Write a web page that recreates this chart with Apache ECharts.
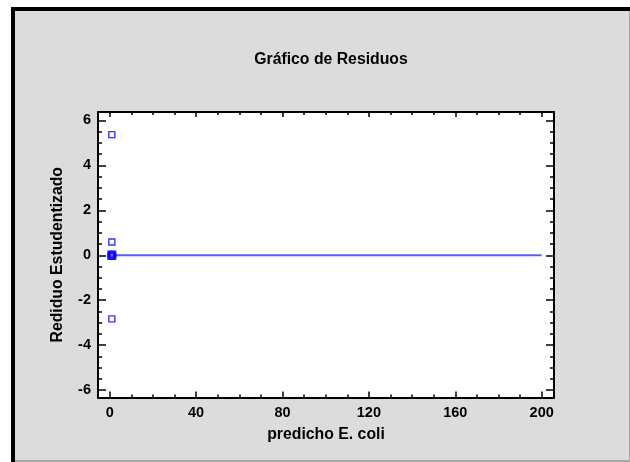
<!DOCTYPE html>
<html>
<head>
<meta charset="utf-8">
<script src="https://cdn.jsdelivr.net/npm/echarts@6/dist/echarts.min.js"></script>
<style>
  html, body { margin: 0; padding: 0; background: #fff; }
  #chart { width: 630px; height: 462px; }
</style>
</head>
<body>
<div id="chart"></div>
<script>
// puntos de residuos (predicho, residuo estudentizado)
const residX = [1.0, 1.0, 1.0, 1.0, 1.4, 0.6, 1.4, 0.6];
const residY = [5.37, 0.59, -2.83, 0.0, 0.05, -0.05, -0.05, 0.05];

// linea de referencia en cero
const lineX = [0, 200];
const lineY = [0, 0];

// marcas de los ejes
const xTicks = [0, 40, 80, 120, 160, 200];
const xMinor = [0, 10, 20, 30, 40, 50, 60, 70, 80, 90, 100, 110, 120, 130, 140, 150, 160, 170, 180, 190, 200];
const yTicks = [-6, -4, -2, 0, 2, 4, 6];
const yMinor = [-6, -5.5, -5, -4.5, -4, -3.5, -3, -2.5, -2, -1.5, -1, -0.5, 0, 0.5, 1, 1.5, 2, 2.5, 3, 3.5, 4, 4.5, 5, 5.5, 6];

const chart = echarts.init(document.getElementById('chart'));

const font = "'Liberation Sans', Arial, sans-serif";
const xMin = -5.4, xMax = 205.7;
const yMin = -6.33, yMax = 6.375;

// eje base, se repite para marcas mayores / menores y lado opuesto
function makeAxis(pos, min, max, ticks, len, showLine, labels) {
    return {
        type: 'value',
        position: pos,
        min: min,
        max: max,
        gridIndex: 0,
        axisLine: { show: showLine, onZero: false, lineStyle: { color: '#000', width: 2 } },
        axisTick: { show: true, inside: true, length: len, customValues: ticks, lineStyle: { color: '#000', width: 1.5 } },
        axisLabel: labels ? {
            show: true,
            customValues: labels,
            color: '#000',
            fontFamily: font,
            fontWeight: 'bold',
            fontSize: 14.5,
            margin: pos === 'bottom' ? 8 : 7,
        } : { show: false },
        splitLine: { show: false },
    };
}

const xBottom = makeAxis('bottom', xMin, xMax, xTicks, 6, true, xTicks);
xBottom.name = 'predicho E. coli';
xBottom.nameLocation = 'middle';
xBottom.nameGap = 29;
xBottom.nameTextStyle = { color: '#000', fontFamily: font, fontWeight: 'bold', fontSize: 15.8 };

const yLeft = makeAxis('left', yMin, yMax, yTicks, 8, true, yTicks);
yLeft.name = 'Rediduo Estudentizado';
yLeft.nameLocation = 'middle';
yLeft.nameGap = 32;
yLeft.nameTextStyle = { color: '#000', fontFamily: font, fontWeight: 'bold', fontSize: 15.8 };

const option = {
    animation: false,
    backgroundColor: 'transparent',
    graphic: [
        { type: 'rect', z: -10, shape: { x: 11, y: 7, width: 619, height: 455 }, style: { fill: '#000' } },
        { type: 'rect', z: -9, shape: { x: 15, y: 11, width: 615, height: 451 }, style: { fill: '#a8a8a8' } },
        { type: 'rect', z: -8, shape: { x: 15, y: 11, width: 614, height: 449 }, style: { fill: '#dcdcdc' } },
    ],
    title: {
        text: 'Gráfico de Residuos',
        left: 326,
        top: 47,
        textAlign: 'center',
        textStyle: { color: '#000', fontFamily: font, fontWeight: 'bold', fontSize: 15.8 },
    },
    grid: {
        left: 98,
        top: 112,
        width: 456,
        height: 285.5,
        show: true,
        backgroundColor: '#fff',
        borderWidth: 0,
    },
    xAxis: [
        xBottom,
        makeAxis('bottom', xMin, xMax, xMinor, 3, false, null),
        makeAxis('top', xMin, xMax, xTicks, 5, true, null),
        makeAxis('top', xMin, xMax, xMinor, 3, false, null),
    ],
    yAxis: [
        yLeft,
        makeAxis('left', yMin, yMax, yMinor, 4, false, null),
        makeAxis('right', yMin, yMax, yTicks, 8, true, null),
        makeAxis('right', yMin, yMax, yMinor, 4, false, null),
    ],
    series: [
        {
            type: 'line',
            xAxisIndex: 0,
            yAxisIndex: 0,
            data: lineX.map((x, i) => [x, lineY[i]]),
            symbol: 'none',
            lineStyle: { color: '#5a5aff', width: 2 },
            z: 2,
        },
        {
            type: 'scatter',
            xAxisIndex: 0,
            yAxisIndex: 0,
            data: residX.map((x, i) => [x, residY[i]]),
            symbol: 'rect',
            symbolSize: 6,
            itemStyle: { color: 'rgba(0,0,0,0)', borderColor: '#0000ff', borderWidth: 1.4 },
            z: 3,
        },
    ],
};

chart.setOption(option);
</script>
</body>
</html>
